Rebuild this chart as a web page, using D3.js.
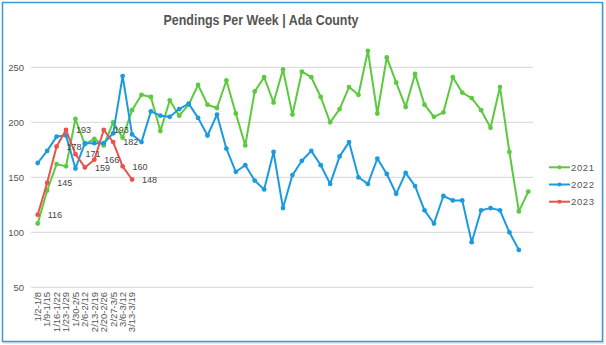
<!DOCTYPE html>
<html>
<head>
<meta charset="utf-8">
<script src="https://cdn.jsdelivr.net/npm/d3@7"></script>
<style>
  html, body { margin: 0; padding: 0; background: #fff; }
  svg { display: block; }
  text { font-family: "Liberation Sans", Arial, Helvetica, sans-serif; }
</style>
</head>
<body>
<script>
const weekLabels = ["1/2-1/8","1/9-1/15","1/16-1/22","1/23-1/29","1/30-2/5","2/6-2/12","2/13-2/19","2/20-2/26","2/27-3/5","3/6-3/12","3/13-3/19"];
const seriesNames = ["2021","2022","2023"];
const seriesColors = ["#5cc93f","#1a9be0","#e9534a"];
const values2021 = [108,138,162,160,203,180,185,179,200,186,211,225,223,192,220,206,216,234,216,213,238,208,179,228,241,218,248,207,246,241,223,200,212,232,225,265,208,259,236,214,244,216,205,209,241,227,222,211,195,232,173,119,137];
const values2022 = [163,174,187,188,158,181,181,181,190,242,189,182,210,206,205,212,217,204,188,207,176,155,161,147,139,173,122,152,165,174,161,144,169,182,150,144,167,153,135,154,142,120,108,133,129,129,91,120,122,120,100,84];
const values2023 = [116,145,178,193,171,159,166,193,182,160,148];
const yTicks = [50,100,150,200,250];

const W = 606, H = 345;
const svg = d3.select("body").append("svg").attr("width", W).attr("height", H);

// frame
svg.append("rect").attr("x", 4).attr("y", 4).attr("width", 599).attr("height", 339)
  .attr("fill", "none").attr("stroke", "#e6e6e6").attr("stroke-width", 2);
svg.append("rect").attr("x", 2.5).attr("y", 2.5).attr("width", 600).attr("height", 339)
  .attr("fill", "#fff").attr("stroke", "#3a9ad8").attr("stroke-width", 1.5);

svg.append("text").attr("x", 261).attr("y", 25).attr("text-anchor", "middle")
  .attr("font-size", 14).attr("font-weight", "bold").attr("fill", "#555")
  .attr("textLength", 195).attr("lengthAdjust", "spacingAndGlyphs")
  .text("Pendings Per Week | Ada County");

const all = [values2021, values2022, values2023];
const n = d3.max(all, a => a.length);
const x = d3.scaleBand().domain(d3.range(n)).range([33, 533]);
const cx = i => x(i) + x.bandwidth() / 2;
const y = d3.scaleLinear().domain([50, 250]).range([287.3, 67.3]);

// grid
svg.append("g").selectAll("line").data(yTicks).join("line")
  .attr("x1", 31).attr("x2", 533)
  .attr("y1", d => y(d)).attr("y2", d => y(d))
  .attr("stroke", "#d6d6d6").attr("stroke-width", 1);

// y axis labels
const yAxis = d3.axisLeft(y).tickValues(yTicks).tickSize(0).tickPadding(0);
const ya = svg.append("g").attr("transform", "translate(24,0)").call(yAxis);
ya.select(".domain").remove();
ya.selectAll("text").attr("font-size", 9.5).attr("fill", "#555")
  .attr("font-family", "'Liberation Sans', Arial, sans-serif");

// x axis labels
const xAxis = d3.axisBottom(x).tickSize(0).tickPadding(0)
  .tickFormat(i => weekLabels[i] || "");
const xa = svg.append("g").attr("transform", "translate(0,292)").call(xAxis);
xa.select(".domain").remove();
xa.selectAll("text").attr("font-size", 9.5).attr("fill", "#555")
  .attr("font-family", "'Liberation Sans', Arial, sans-serif")
  .attr("text-anchor", "end").attr("dy", "0.35em").attr("y", 0).attr("x", 0)
  .attr("transform", "rotate(-90)");

const line = d3.line().x((d, i) => cx(i)).y(d => y(d));
all.forEach((vals, k) => {
  const g = svg.append("g");
  g.append("path").datum(vals).attr("d", line).attr("fill", "none")
    .attr("stroke", seriesColors[k]).attr("stroke-width", 2).attr("stroke-linejoin", "round");
  g.selectAll("circle").data(vals).join("circle")
    .attr("cx", (d, i) => cx(i)).attr("cy", d => y(d)).attr("r", 2.4)
    .attr("fill", seriesColors[k]);
});

// labels for 2023
svg.append("g").selectAll("text").data(values2023).join("text")
  .attr("x", (d, i) => cx(i) + 10).attr("y", d => y(d)).attr("dy", "0.36em")
  .attr("font-size", 9).attr("fill", "#444").text(d => d);

// legend
const lg = svg.append("g");
seriesNames.forEach((s, k) => {
  const ly = 167.3 + k * 17.2;
  lg.append("line").attr("x1", 549).attr("x2", 570).attr("y1", ly).attr("y2", ly)
    .attr("stroke", seriesColors[k]).attr("stroke-width", 2);
  lg.append("circle").attr("cx", 559.5).attr("cy", ly).attr("r", 2).attr("fill", seriesColors[k]);
  lg.append("text").attr("x", 571).attr("y", ly).attr("dy", "0.35em")
    .attr("font-size", 9.5).attr("fill", "#555").attr("letter-spacing", 0.6).text(s);
});
</script>
</body>
</html>
